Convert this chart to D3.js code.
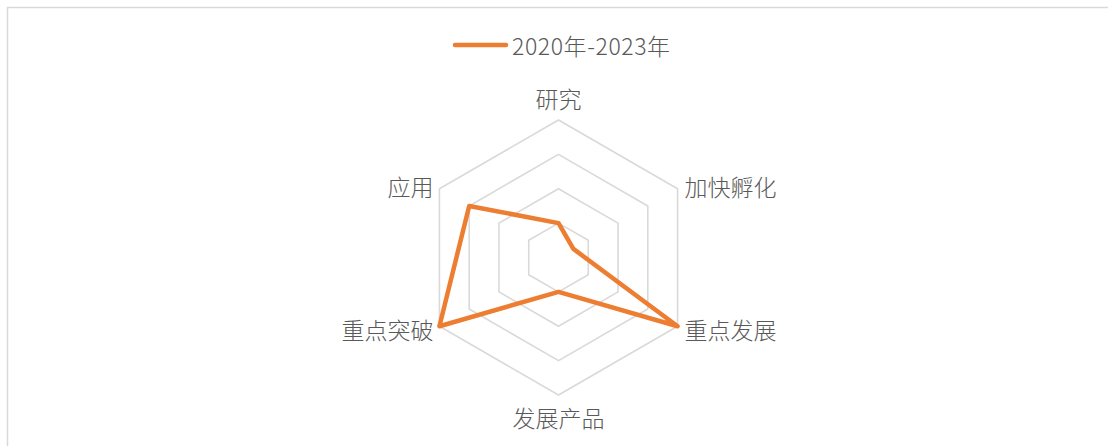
<!DOCTYPE html>
<html><head><meta charset="utf-8">
<script src="https://cdn.jsdelivr.net/npm/d3@7"></script>
<style>
html,body{margin:0;padding:0;background:#fff;}
svg{display:block;font-family:"Noto Sans CJK SC","Noto Sans",sans-serif;}
</style></head>
<body>
<svg id="chart" width="1108" height="446"></svg>
<script>
const categories = ["研究","加快孵化","重点发展","发展产品","重点突破","应用"];
const seriesName = "2020年-2023年";
const seriesValues = [2, 1, 8, 2, 8, 6];
const gridTicks = [2, 4, 6, 8];

const svg = d3.select("#chart");
const W = 1108, H = 446;
const cx = 558.5, cy = 257.5, R = 137.5;
const gridColor = "#d9d9d9", textColor = "#595959", lineColor = "#ED7D31";

// chart border
svg.append("rect").attr("x", 7.5).attr("y", 7.5).attr("width", W + 10).attr("height", H + 10)
  .attr("fill", "none").attr("stroke", gridColor).attr("stroke-width", 1.5);

const r = d3.scaleLinear().domain([0, d3.max(gridTicks)]).range([0, R]);
const angle = d3.scalePoint().domain(categories).range([0, 2 * Math.PI * (categories.length - 1) / categories.length]);
const pt = (c, v) => [cx + r(v) * Math.sin(angle(c)), cy - r(v) * Math.cos(angle(c))];

const g = svg.append("g");
// grid rings
gridTicks.forEach(t => {
  g.append("path")
    .attr("d", d3.line()(categories.map(c => pt(c, t))) + "Z")
    .attr("fill", "none").attr("stroke", gridColor).attr("stroke-width", 1.6);
});

// series
g.append("path")
  .attr("d", d3.line()(categories.map((c, i) => pt(c, seriesValues[i]))) + "Z")
  .attr("fill", "none").attr("stroke", lineColor).attr("stroke-width", 4.5)
  .attr("stroke-linejoin", "round");

// labels
const maxV = d3.max(gridTicks);
categories.forEach(c => {
  const a = angle(c);
  const [x, y] = pt(c, maxV);
  const s = Math.sin(a), co = Math.cos(a);
  let anchor = "middle", dx = 0, dy = 0;
  if (Math.abs(s) < 0.01) { dy = co > 0 ? -22 : 22; }
  else { anchor = s > 0 ? "start" : "end"; dx = s > 0 ? 7 : -6; dy = co > 0 ? -3 : 3; }
  g.append("text").attr("x", x + dx).attr("y", y + dy)
    .attr("text-anchor", anchor).attr("dominant-baseline", "central")
    .attr("fill", textColor).attr("font-size", 23).attr("font-weight", 300).text(c);
});

// legend
const lg = svg.append("g");
lg.append("line").attr("x1", 455).attr("x2", 506).attr("y1", 45).attr("y2", 45)
  .attr("stroke", lineColor).attr("stroke-width", 4.5).attr("stroke-linecap", "round");
lg.append("text").attr("x", 512).attr("y", 45).attr("dominant-baseline", "central")
  .attr("fill", textColor).attr("font-size", 23).attr("font-weight", 300)
  .attr("letter-spacing", 0.6).text(seriesName);
</script>
</body></html>
